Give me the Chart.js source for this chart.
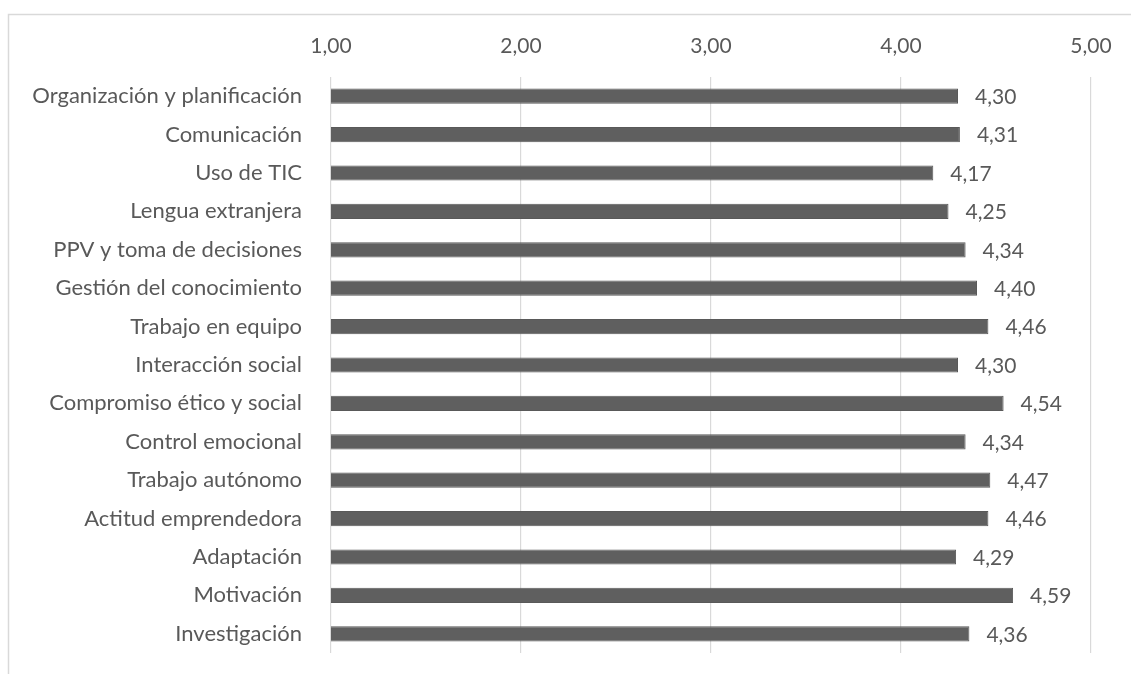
<!DOCTYPE html>
<html>
<head>
<meta charset="utf-8">
<script src="https://cdn.jsdelivr.net/npm/chart.js@4/dist/chart.umd.min.js"></script>
<style>
  html, body { margin: 0; padding: 0; background: #ffffff; }
  #wrap { width: 1131px; height: 674px; position: relative; }
</style>
</head>
<body>
<div id="wrap"><canvas id="c" width="1131" height="674"></canvas></div>
<script>
// Competencias y su puntuación media (escala 1–5)
const categories = [
  'Organización y planificación',
  'Comunicación',
  'Uso de TIC',
  'Lengua extranjera',
  'PPV y toma de decisiones',
  'Gestión del conocimiento',
  'Trabajo en equipo',
  'Interacción social',
  'Compromiso ético y social',
  'Control emocional',
  'Trabajo autónomo',
  'Actitud emprendedora',
  'Adaptación',
  'Motivación',
  'Investigación'
];
const meanScores = [4.30, 4.31, 4.17, 4.25, 4.34, 4.40, 4.46, 4.30, 4.54, 4.34, 4.47, 4.46, 4.29, 4.59, 4.36];
const axisTicks = [1, 2, 3, 4, 5];

const FONT = 'Lato, "Open Sans", sans-serif';
const TEXT = '#595959';
const GRID = '#d9d9d9';
const fmt = v => Number(v).toFixed(2).replace('.', ',');

// Light frame around the chart
const framePlugin = {
  id: 'frame',
  beforeDraw(chart) {
    const ctx = chart.ctx;
    ctx.save();
    ctx.fillStyle = '#ffffff';
    ctx.fillRect(0, 0, chart.width, chart.height);
    ctx.strokeStyle = GRID;
    ctx.lineWidth = 1.5;
    ctx.strokeRect(8.5, 14.5, chart.width + 50, chart.height + 50);
    ctx.restore();
  }
};

// Value labels at the end of each bar
const valueLabels = {
  id: 'valueLabels',
  afterDatasetsDraw(chart) {
    const ctx = chart.ctx;
    const meta = chart.getDatasetMeta(0);
    ctx.save();
    ctx.font = '21px ' + FONT;
    ctx.fillStyle = TEXT;
    ctx.textAlign = 'left';
    ctx.textBaseline = 'middle';
    meta.data.forEach((bar, i) => {
      ctx.fillText(fmt(chart.data.datasets[0].data[i]), bar.x + 17, bar.y + 1);
    });
    ctx.restore();
  }
};

new Chart(document.getElementById('c'), {
  type: 'bar',
  data: {
    labels: categories,
    datasets: [{
      data: meanScores,
      backgroundColor: '#5f5f5f',
      borderColor: '#595959',
      borderWidth: 1,
      barPercentage: 0.72,
      categoryPercentage: 0.55
    }]
  },
  options: {
    indexAxis: 'y',
    responsive: false,
    animation: false,
    layout: { padding: { left: 0, right: 40, top: 0, bottom: 21 } },
    plugins: { legend: { display: false }, tooltip: { enabled: false } },
    scales: {
      x: {
        position: 'top',
        min: 1,
        max: 5,
        afterBuildTicks(scale) { scale.ticks = axisTicks.map(v => ({ value: v })); },
        afterFit(scale) { scale.height = 77; scale.paddingLeft = 0; scale.paddingRight = 0; },
        grid: { color: GRID, lineWidth: 1.2, drawTicks: false },
        border: { display: false },
        ticks: {
          color: TEXT,
          font: { family: FONT, size: 21 },
          padding: 18,
          callback: v => fmt(v)
        }
      },
      y: {
        afterFit(scale) { scale.width = 331; scale.paddingTop = 0; scale.paddingBottom = 0; },
        grid: { display: false },
        border: { display: false },
        ticks: {
          color: TEXT,
          font: { family: FONT, size: 22 },
          padding: 21
        }
      }
    }
  },
  plugins: [framePlugin, valueLabels]
});
</script>
</body>
</html>
